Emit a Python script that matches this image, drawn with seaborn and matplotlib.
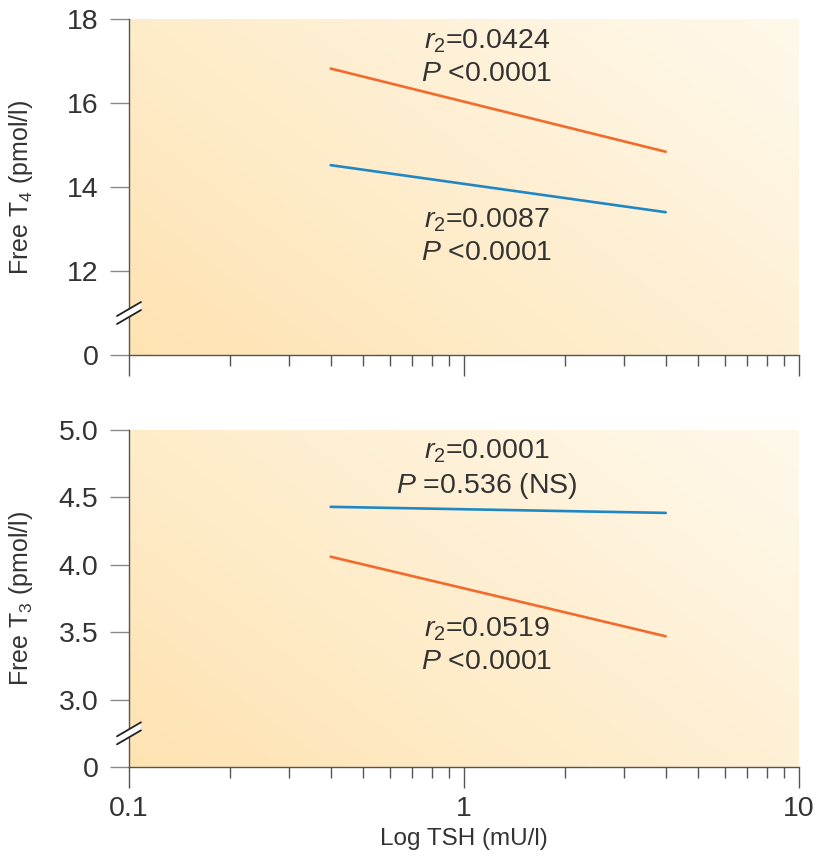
import numpy as np
import pandas as pd
import matplotlib
matplotlib.use("Agg")
import matplotlib.pyplot as plt
import seaborn as sns
from matplotlib.colors import LinearSegmentedColormap
from matplotlib.patches import Polygon
from matplotlib.lines import Line2D

sns.set_style("ticks")
plt.rcParams['font.family'] = ['Liberation Sans', 'DejaVu Sans']
plt.rcParams['mathtext.fontset'] = 'custom'
plt.rcParams['mathtext.rm'] = 'Liberation Sans'
plt.rcParams['mathtext.it'] = 'Liberation Sans:italic'
plt.rcParams['mathtext.bf'] = 'Liberation Sans:bold'

# ---- data ----
tsh = [0.4, 4.0]
t4_orange = [16.82, 14.84]
t4_blue = [14.52, 13.40]
t3_blue = [4.43, 4.385]
t3_orange = [4.06, 3.47]

t4_ticks = [10, 12, 14, 16, 18]
t4_ticklabels = ["0", "12", "14", "16", "18"]
t3_ticks = [2.5, 3.0, 3.5, 4.0, 4.5, 5.0]
t3_ticklabels = ["0", "3.0", "3.5", "4.0", "4.5", "5.0"]

t4_txt_top = "$\\mathit{r}_2$=0.0424\n$\\mathit{P}$ <0.0001"
t4_txt_bot = "$\\mathit{r}_2$=0.0087\n$\\mathit{P}$ <0.0001"
t3_txt_top = "$\\mathit{r}_2$=0.0001\n$\\mathit{P}$ =0.536 (NS)"
t3_txt_bot = "$\\mathit{r}_2$=0.0519\n$\\mathit{P}$ <0.0001"

ORANGE = "#F26A2C"
BLUE = "#1F88C4"
TXT = "#333333"

W, H = 819, 856
fig = plt.figure(figsize=(W / 100, H / 100), dpi=100)

cmap = LinearSegmentedColormap.from_list("bg", ["#FEE3B2", "#FFF9EC"])
gx, gy = np.meshgrid(np.linspace(0, 1, 300), np.linspace(0, 1, 300))
grad = (gx * 0.6 + gy * 0.4)


def px_rect(l, t, r, b):
    return [l / W, 1 - b / H, (r - l) / W, (b - t) / H]


def panel(rect, ylim, ticks, ticklabels, ylabel, series, texts, break_val, show_xlabels):
    bg = fig.add_axes(rect)
    bg.imshow(grad, cmap=cmap, origin="lower", extent=[0, 1, 0, 1], aspect="auto")
    bg.set_axis_off()
    ax = fig.add_axes(rect)
    ax.patch.set_alpha(0)
    for y, c in series:
        df = pd.DataFrame({"x": tsh, "y": y})
        sns.lineplot(data=df, x="x", y="y", ax=ax, color=c, lw=1.9)
    ax.set_xscale("log")
    ax.set_xlim(0.1, 10)
    ax.set_ylim(*ylim)
    ax.set_yticks(ticks)
    ax.set_yticklabels(ticklabels)
    for s in ["top", "right"]:
        ax.spines[s].set_visible(False)
    for s in ["left", "bottom"]:
        ax.spines[s].set_color("#555555")
        ax.spines[s].set_linewidth(1.0)
    ax.tick_params(axis="y", length=14, width=1.0, color="#8a8a8a", labelsize=20.5, pad=8, labelcolor=TXT)
    ax.tick_params(axis="x", which="major", length=15, width=1.0, color="#555555", labelsize=20.5, pad=6, labelcolor=TXT)
    ax.tick_params(axis="x", which="minor", length=8, width=1.0, color="#555555")
    ax.set_xticks([0.1, 1, 10])
    ax.set_xticklabels(["0.1", "1", "10"])
    if not show_xlabels:
        ax.tick_params(axis="x", which="both", labelbottom=False)
        ax.set_xlabel("")
    else:
        ax.set_xlabel("Log TSH (mU/l)", fontsize=17.5, color=TXT, labelpad=4)
    ax.set_ylabel(ylabel, fontsize=18, color=TXT)
    ax.yaxis.set_label_coords(-0.14, 0.5)
    for (tx, ty, s) in texts:
        ax.text(tx, ty, s, ha="center", va="center", fontsize=20.5, color=TXT, linespacing=1.3)
    # axis break marks
    x0, yb = ax.transData.transform((0.1, break_val))

    def pf(x, y):
        return (x / W, y / H)
    dx, dy, gap = 12, 7, 4
    p1a, p1b = (x0 - dx, yb - dy + gap), (x0 + dx, yb + dy + gap)
    p2a, p2b = (x0 - dx, yb - dy - gap), (x0 + dx, yb + dy - gap)
    poly = Polygon([pf(*p1a), pf(*p1b), pf(*p2b), pf(*p2a)], closed=True,
                   facecolor="white", edgecolor="none", transform=fig.transFigure, zorder=10)
    fig.add_artist(poly)
    for a, b in [(p1a, p1b), (p2a, p2b)]:
        fig.add_artist(Line2D([a[0] / W, b[0] / W], [a[1] / H, b[1] / H], color="#222222",
                              lw=1.3, transform=fig.transFigure, zorder=11))
    return ax


ax1 = panel(px_rect(129, 19, 799, 355), (10, 18), t4_ticks, t4_ticklabels,
            "Free T$_4$ (pmol/l)",
            [(t4_orange, ORANGE), (t4_blue, BLUE)],
            [(1.17, 17.1, t4_txt_top), (1.17, 12.82, t4_txt_bot)], 11.0, False)
ax2 = panel(px_rect(129, 430, 799, 767), (2.5, 5.0), t3_ticks, t3_ticklabels,
            "Free T$_3$ (pmol/l)",
            [(t3_blue, BLUE), (t3_orange, ORANGE)],
            [(1.17, 4.71, t3_txt_top), (1.17, 3.40, t3_txt_bot)], 2.75, True)

fig.savefig("out.png", dpi=100)
